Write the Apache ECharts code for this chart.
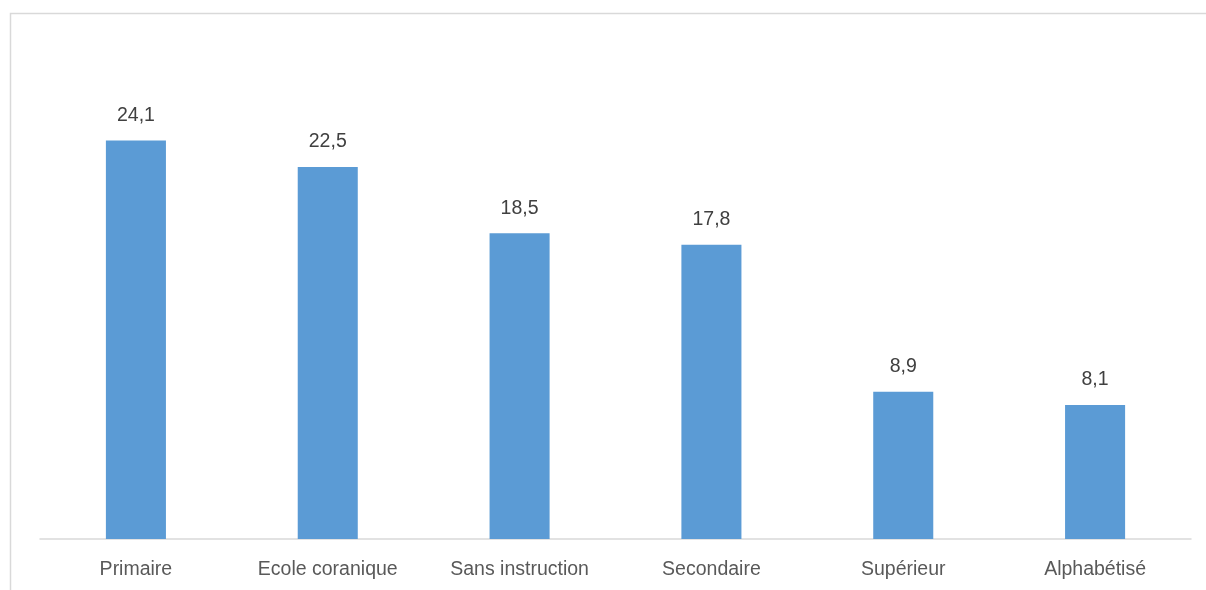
<!DOCTYPE html>
<html>
<head>
<meta charset="utf-8">
<style>
  html, body { margin: 0; padding: 0; background: #fff; }
  #chart { width: 1206px; height: 590px; }
</style>
<script src="https://cdn.jsdelivr.net/npm/echarts@6/dist/echarts.min.js"></script>
</head>
<body>
<div id="chart"></div>
<script>
// Répartition par niveau d'instruction (%)
const categories = ['Primaire', 'Ecole coranique', 'Sans instruction', 'Secondaire', 'Supérieur', 'Alphabétisé'];
const values = [24.1, 22.5, 18.5, 17.8, 8.9, 8.1];

const FONT = '"Liberation Sans", Arial, sans-serif';

const chart = echarts.init(document.getElementById('chart'), null, { renderer: 'canvas' });

chart.setOption({
  animation: false,
  backgroundColor: '#ffffff',
  graphic: [{
    type: 'rect',
    shape: { x: 10.5, y: 13.5, width: 1210, height: 600 },
    style: { fill: 'none', stroke: '#d9d9d9', lineWidth: 1.5 },
    silent: true
  }],
  grid: { left: 40, right: 15, top: 43, bottom: 51, containLabel: false },
  xAxis: {
    type: 'category',
    data: categories,
    axisLine: { show: true, lineStyle: { color: '#d9d9d9', width: 1.5 } },
    axisTick: { show: false },
    axisLabel: {
      color: '#595959',
      fontFamily: FONT,
      fontSize: 19.5,
      margin: 21,
      interval: 0
    }
  },
  yAxis: {
    type: 'value',
    min: 0,
    max: 30,
    show: false,
    splitLine: { show: false }
  },
  series: [{
    type: 'bar',
    data: values,
    barWidth: '31.3%',
    itemStyle: { color: '#5b9bd5' },
    label: {
      show: true,
      position: 'top',
      distance: 15,
      color: '#404040',
      fontFamily: FONT,
      fontSize: 19.5,
      formatter: p => String(p.value).replace('.', ',')
    }
  }]
});
</script>
</body>
</html>
